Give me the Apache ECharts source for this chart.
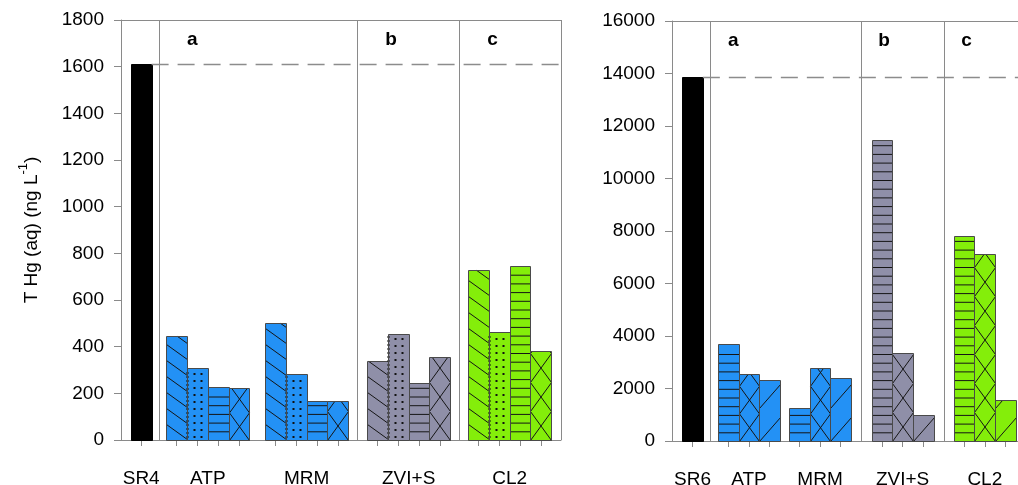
<!DOCTYPE html>
<html><head><meta charset="utf-8">
<script src="https://cdn.jsdelivr.net/npm/echarts@6/dist/echarts.min.js"></script>
<style>html,body{margin:0;padding:0;background:#fff;}#c{width:1018px;height:485px;}</style>
</head><body><div id="c"></div>
<script>
// ---------------- data ----------------
const leftGroupNames = ['SR4', 'ATP', 'MRM', 'ZVI+S', 'CL2'];
const leftSR4  = [1612];
const leftATP  = [447, 310, 228, 224];
const leftMRM  = [500, 281, 166, 167];
const leftZVIS = [337, 453, 243, 357];
const leftCL2  = [728, 465, 745, 382];

const rightGroupNames = ['SR6', 'ATP', 'MRM', 'ZVI+S', 'CL2'];
const rightSR6  = [13850];
const rightATP  = [3700, 2571, 2342];
const rightMRM  = [1259, 2768, 2404];
const rightZVIS = [11460, 3334, 985];
const rightCL2  = [7809, 7115, 1553];

const leftYMax = 1800,  leftYStep = 200;
const rightYMax = 16000, rightYStep = 2000;
const treatmentLetters = ['a', 'b', 'c'];
const yTitle = 'T Hg (aq) (ng L{sup|-1})';

// ---------------- styles ----------------
const FONT = 'Liberation Sans, Arial, sans-serif';
const FS = 19;
const FRAME = '#8a8a8a';
const GROUP_COLORS = ['#000000', '#2391f5', '#2391f5', '#8f8fa8', '#84ee0a'];
const PATTERN_NAMES = ['solid', 'back', 'dots', 'horiz', 'cross', 'slash'];
const LEFT_PATTERNS = ['back', 'dots', 'horiz', 'cross'];
const RIGHT_PATTERNS = ['horiz', 'cross', 'slash'];
const DIVIDER_AFTER = [0, 2, 3];   // group index after which a divider is drawn
const LETTER_GROUP = [1, 3, 4];

function clipLine(x0, x1, yt, yb, c, m) {
  if (Math.abs(m) < 1e-9) {
    if (c < yt || c > yb) return null;
    return [x0, c, x1, c];
  }
  const xa = x0 + (yt - c) / m, xb = x0 + (yb - c) / m;
  const lo = Math.max(x0, Math.min(xa, xb)), hi = Math.min(x1, Math.max(xa, xb));
  if (hi - lo < 0.3) return null;
  return [lo, c + m * (lo - x0), hi, c + m * (hi - x0)];
}

function patternChildren(name, x0, x1, yt, yb) {
  const out = [];
  const w = x1 - x0, h = yb - yt;
  const ls = { stroke: '#151515', lineWidth: 1 };
  const addLine = (seg) => { if (seg) out.push({ type: 'line', shape: { x1: seg[0], y1: seg[1], x2: seg[2], y2: seg[3] }, style: ls, silent: true }); };
  if (name === 'back') {
    const m = 0.72, s = 16;
    const N = Math.ceil((h + m * w) / s) + 1;
    for (let n = 0; n <= N; n++) addLine(clipLine(x0, x1, yt, yb, yb - n * s, m));
  } else if (name === 'slash') {
    const m = -1.14, s = 33;
    const N = Math.ceil(h / s) + 1;
    for (let n = -1; n <= N; n++) addLine(clipLine(x0, x1, yt, yb, yb - n * s, m));
  } else if (name === 'cross') {
    const k = 1.38, p = k * w;
    const N = Math.ceil(h / p) + 2;
    for (let n = -1; n <= N; n++) {
      addLine(clipLine(x0, x1, yt, yb, yb - n * p, -k));
      addLine(clipLine(x0, x1, yt, yb, yb - n * p - p, k));
    }
  } else if (name === 'horiz') {
    const s = 8.7;
    for (let y = yb - s; y > yt + 1.5; y -= s) addLine([x0, y, x1, y]);
  } else if (name === 'dots') {
    const s = 7;
    for (let i = 0; i < 3; i++) {
      const step = i === 0 ? 4 : s;
      const cx = x0 + i * w / 3;
      for (let y = yb - 3.5; y > yt + 2; y -= step) {
        out.push({ type: 'rect', shape: { x: cx - 1, y: y - 1, width: 2, height: 2 }, style: { fill: '#111' }, silent: true });
      }
    }
  }
  return out;
}

function makeRender() {
  return function (params, api) {
    const x = api.value(0), v = api.value(1);
    const pat = PATTERN_NAMES[api.value(2)];
    const col = GROUP_COLORS[api.value(3)];
    const tl = api.coord([x - 0.5, v]);
    const br = api.coord([x + 0.5, 0]);
    const x0 = Math.round(tl[0]) + 0.5, x1 = Math.round(br[0]) + 0.5;
    const yt = Math.round(tl[1]) + 0.5, yb = Math.round(br[1]) + 0.5;
    const children = [
      { type: 'rect', shape: { x: x0, y: yt, width: x1 - x0, height: yb - yt }, style: { fill: col } }
    ];
    if (pat !== 'solid') children.push(...patternChildren(pat, x0, x1, yt, yb));
    children.push({ type: 'rect', shape: { x: x0, y: yt, width: x1 - x0, height: yb - yt },
      style: { fill: 'none', stroke: pat === 'solid' ? '#000' : '#4a4a4a', lineWidth: 1 } });
    return { type: 'group', children };
  };
}

const PANELS = [
  { grid: { left: 121, top: 20, width: 440, height: 420 }, unit: null, margin: 0.97, gaps: [1.7, 1.75, 1.9, 1.85],
    names: leftGroupNames, values: [leftSR4, leftATP, leftMRM, leftZVIS, leftCL2],
    patterns: LEFT_PATTERNS, yMax: leftYMax, yStep: leftYStep, letterOffset: 1.6, title: true, frameRight: true },
  // the right panel runs past the page edge, as in the reference
  { grid: { left: 672, top: 21, width: 354, height: 420 }, unit: null, margin: 0.99, gaps: [1.73, 1.43, 1.99, 1.97],
    names: rightGroupNames, values: [rightSR6, rightATP, rightMRM, rightZVIS, rightCL2],
    patterns: RIGHT_PATTERNS, yMax: rightYMax, yStep: rightYStep, letterOffset: 1.1, title: false, frameRight: true }
];

const option = { animation: false, backgroundColor: '#fff', grid: [], xAxis: [], yAxis: [], series: [] };

PANELS.forEach((P, pi) => {
  const centers = [];
  let pos = P.margin;
  P.values.forEach((vals, g) => {
    if (g > 0) pos += P.gaps[g - 1] - 1;
    const cs = [];
    vals.forEach(() => { cs.push(pos); pos += 1; });
    centers.push(cs);
  });
  const lastC = centers[centers.length - 1];
  const total = lastC[lastC.length - 1] + P.margin;

  const data = [], tickVals = [], labelVals = [], labelMap = {};
  P.values.forEach((vals, g) => {
    vals.forEach((v, i) => {
      const pname = g === 0 ? 'solid' : P.patterns[i];
      data.push([centers[g][i], v, PATTERN_NAMES.indexOf(pname), g]);
      tickVals.push(centers[g][i]);
    });
    const gc = (centers[g][0] + centers[g][centers[g].length - 1]) / 2;
    labelVals.push(gc);
    labelMap[gc.toFixed(3)] = P.names[g];
  });

  const dividers = DIVIDER_AFTER.map(g => (centers[g][centers[g].length - 1] + centers[g + 1][0]) / 2);
  const letters = LETTER_GROUP.map((g, k) => ({
    coord: [dividers[k] + P.letterOffset, P.yMax * 0.953],
    value: treatmentLetters[k]
  }));
  const srVal = P.values[0][0];
  const srRight = centers[0][0] + 0.5;

  option.grid.push(Object.assign({ show: false, containLabel: false, outerBoundsMode: 'none' }, P.grid));
  option.xAxis.push({
    type: 'value', gridIndex: pi, min: 0, max: total,
    axisLine: { show: true, onZero: false, lineStyle: { color: FRAME, width: 1 } },
    axisTick: { show: true, customValues: tickVals, length: 6, lineStyle: { color: FRAME } },
    axisLabel: { show: true, customValues: labelVals, margin: 29, color: '#000', fontSize: FS, fontFamily: FONT,
      formatter: (v) => labelMap[Number(v).toFixed(3)] || '' },
    splitLine: { show: false }
  });
  const ya = {
    type: 'value', gridIndex: pi, min: 0, max: P.yMax, interval: P.yStep,
    axisLine: { show: true, lineStyle: { color: FRAME, width: 1 } },
    axisTick: { show: true, length: 7, lineStyle: { color: FRAME } },
    axisLabel: { color: '#000', fontSize: FS, fontFamily: FONT, margin: 17, formatter: (v) => String(v) },
    splitLine: { show: false }
  };
  if (P.title) {
    Object.assign(ya, {
      name: yTitle, nameLocation: 'middle', nameGap: 74,
      nameTextStyle: { color: '#000', fontSize: FS, fontFamily: FONT, lineHeight: 30,
        rich: { sup: { fontSize: 13, fontFamily: FONT, color: '#000', verticalAlign: 'top', lineHeight: 13 } } }
    });
  }
  option.yAxis.push(ya);

  const frameLines = [
    [{ coord: [0, P.yMax], lineStyle: { color: FRAME, width: 1, type: 'solid' } }, { coord: [total, P.yMax] }]
  ];
  if (P.frameRight) frameLines.push({ xAxis: total, lineStyle: { color: FRAME, width: 1, type: 'solid' } });

  option.series.push({
    type: 'custom', xAxisIndex: pi, yAxisIndex: pi, clip: false,
    renderItem: makeRender(), data: data,
    markLine: {
      silent: true, symbol: ['none', 'none'], label: { show: false }, animation: false,
      data: [
        ...frameLines,
        ...dividers.map(d => ({ xAxis: d, lineStyle: { color: FRAME, width: 1, type: 'solid' } })),
        [{ coord: [srRight, srVal], lineStyle: { color: '#8c8c8c', width: 1.3, type: [17, 9] } },
         { coord: [total, srVal] }]
      ]
    },
    markPoint: {
      silent: true, symbol: 'circle', symbolSize: 1, itemStyle: { color: 'rgba(0,0,0,0)' }, animation: false,
      label: { show: true, position: 'inside', color: '#000', fontSize: FS, fontWeight: 'bold', fontFamily: FONT,
        formatter: (p) => p.data.value },
      data: letters
    }
  });
});

const chart = echarts.init(document.getElementById('c'), null, { renderer: 'canvas' });
chart.setOption(option);
</script></body></html>
